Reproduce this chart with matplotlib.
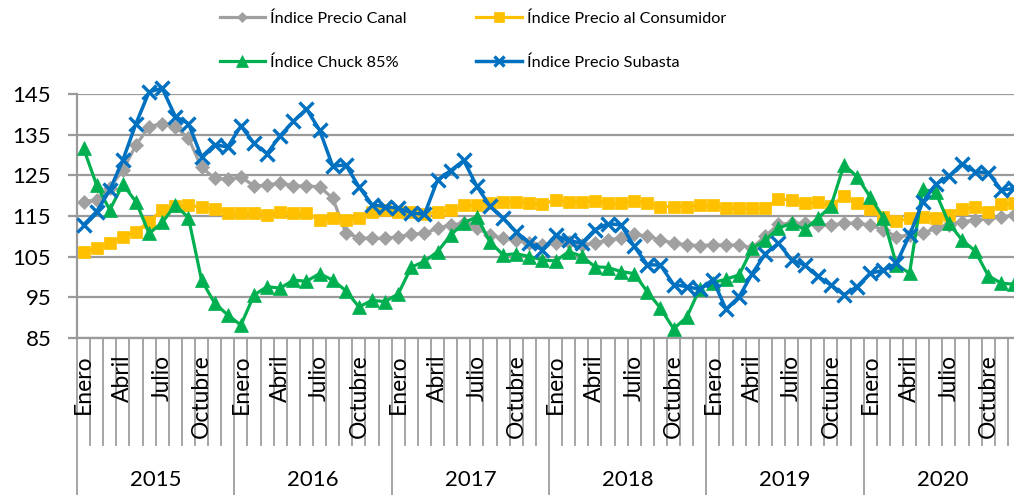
import matplotlib

matplotlib.use("Agg")
import matplotlib.pyplot as plt
import matplotlib.transforms as mtransforms
import numpy as np

years = ["2015", "2016", "2017", "2018", "2019", "2020"]
month_labels = {0: "Enero", 3: "Abril", 6: "Julio", 9: "Octubre"}

canal = [
    118.5, 119.0, 122.0, 126.3, 132.5, 137.0, 137.8, 137.0, 134.2, 127.0, 124.3, 124.0,
    124.7, 122.4, 122.6, 123.2, 122.4, 122.4, 122.2, 119.4, 110.9, 109.6, 109.5, 109.5,
    109.9, 110.5, 110.7, 112.0, 112.8, 113.2, 112.0, 110.3, 109.5, 109.1, 108.3, 107.9,
    108.3, 108.7, 107.9, 108.3, 109.1, 109.6, 110.5, 110.0, 109.1, 108.3, 107.9, 107.7,
    107.9, 107.8, 107.8, 107.2, 110.0, 113.0, 113.2, 113.2, 112.8, 112.8, 113.2, 113.2,
    112.8, 111.6, 109.9, 110.3, 110.7, 112.0, 112.8, 113.6, 114.0, 114.4, 114.8, 115.2,
]
consumidor = [
    106.2, 107.0, 108.3, 109.9, 111.1, 113.6, 116.5, 117.5, 117.6, 117.2, 116.8, 115.8,
    115.7, 115.7, 115.3, 116.0, 115.7, 115.7, 114.1, 114.4, 114.1, 114.4, 116.0, 116.4,
    116.1, 116.1, 115.4, 116.1, 116.5, 117.6, 117.6, 118.1, 118.5, 118.5, 118.1, 118.0,
    118.9, 118.5, 118.5, 118.8, 118.1, 118.1, 118.8, 118.1, 117.3, 117.3, 117.3, 117.6,
    117.6, 116.9, 116.9, 116.9, 116.9, 119.3, 118.9, 118.1, 118.4, 117.4, 120.0, 118.2,
    116.8, 114.8, 113.7, 114.4, 114.8, 114.4, 115.3, 116.8, 117.2, 116.1, 118.0, 118.1,
]
chuck = [
    131.7, 122.6, 116.5, 122.8, 118.5, 110.7, 113.4, 117.7, 114.6, 99.2, 93.5, 90.6,
    88.1, 95.5, 97.6, 97.2, 99.2, 98.9, 100.8, 99.2, 96.6, 92.6, 94.2, 93.9,
    95.8, 102.4, 103.8, 106.2, 110.3, 113.3, 114.8, 108.6, 105.4, 105.7, 105.0, 104.2,
    103.9, 106.2, 105.1, 102.5, 102.3, 101.3, 100.8, 96.3, 92.3, 87.2, 90.0, 97.1,
    98.6, 99.4, 100.5, 107.0, 109.1, 112.0, 113.2, 111.7, 114.4, 117.4, 127.6, 124.7,
    119.7, 114.6, 103.0, 100.9, 121.6, 120.8, 113.2, 109.1, 106.4, 100.3, 98.4, 98.2,
]
subasta = [
    112.8, 116.1, 121.4, 128.8, 137.8, 145.6, 146.5, 139.5, 137.8, 129.6, 132.6, 132.0,
    137.2, 132.9, 130.4, 134.8, 138.3, 141.4, 136.2, 127.3, 127.6, 122.2, 117.8, 117.3,
    116.9, 115.8, 115.4, 123.9, 126.2, 128.7, 122.3, 117.4, 114.4, 111.1, 108.3, 106.7,
    110.2, 109.0, 108.3, 111.6, 113.1, 112.8, 107.5, 103.0, 102.9, 98.1, 97.6, 96.9,
    99.3, 92.0, 95.1, 100.8, 105.7, 108.3, 104.2, 102.9, 100.1, 98.0, 95.6, 97.6,
    100.9, 101.6, 103.3, 110.3, 118.4, 122.8, 124.8, 127.9, 125.9, 125.7, 121.4, 121.8,
]

GRAY = "#a5a5a5"
LINE_GRAY = "#9a9a9a"
SERIES = [
    ("Índice Precio Canal", canal, "#a0a0a0", "D", 7.0, 2.3),
    ("Índice Precio al Consumidor", consumidor, "#ffc000", "s", 8.8, 2.3),
    ("Índice Chuck 85%", chuck, "#00b050", "^", 10.5, 2.3),
    ("Índice Precio Subasta", subasta, "#0070c0", "x", 9.5, 2.5),
]

plt.rcParams["font.family"] = ["Lato", "DejaVu Sans"]

W, H = 1014, 495
fig = plt.figure(figsize=(W / 100, H / 100), dpi=100)
ax_left, ax_right, ax_top, ax_bottom = 77, 1021, 94.3, 337.7
ax = fig.add_axes([ax_left / W, 1 - ax_bottom / H, (ax_right - ax_left) / W, (ax_bottom - ax_top) / H])

n = len(canal)
x = np.arange(n) + 0.5
handles = []
for label, vals, color, marker, ms, lw in SERIES:
    mew = 2.4 if marker == "x" else 0.5
    (h,) = ax.plot(x, vals, color=color, lw=lw, marker=marker, markersize=ms,
                   markeredgewidth=mew, markeredgecolor=color, label=label, clip_on=False, zorder=3)
    handles.append(h)

ax.set_xlim(0, n)
ax.set_ylim(85, 145)
ax.set_yticks(np.arange(85, 146, 10))
ax.yaxis.grid(True, color=LINE_GRAY, lw=1.6)
ax.set_axisbelow(True)
ax.tick_params(axis="y", length=6.5, width=1.6, color=LINE_GRAY, pad=12, labelsize=16)
ax.set_xticks([])
for side in ["top", "right"]:
    ax.spines[side].set_visible(False)
ax.spines["left"].set_color(LINE_GRAY)
ax.spines["left"].set_linewidth(1.6)
ax.spines["bottom"].set_color(LINE_GRAY)
ax.spines["bottom"].set_linewidth(1.6)

# category axis: month separators, month names, year groups
trans = mtransforms.blended_transform_factory(ax.transData, ax.transAxes)
px = 1.0 / (ax_bottom - ax_top)
for b in range(n + 1):
    depth = 160 if b % 12 == 0 else 107
    ax.plot([b, b], [0, -depth * px], color=GRAY, lw=1.4, transform=trans, clip_on=False)
for i in range(n):
    m = i % 12
    if m in month_labels:
        ax.text(i + 0.5, -17 * px, month_labels[m], rotation=90, ha="center", va="top",
                fontsize=16.5, transform=trans)
for k, yr in enumerate(years):
    ax.text(k * 12 + 6, -142 * px, yr, ha="center", va="center", fontsize=16, transform=trans)

order = [0, 2, 1, 3]
fig.legend([handles[i] for i in order], [SERIES[i][0] for i in order], ncol=2,
           loc="upper left", bbox_to_anchor=(213 / W, 1 - 5 / H), frameon=False,
           borderaxespad=0, fontsize=11.7, handlelength=2.8, handletextpad=0.3,
           columnspacing=4.3, labelspacing=1.8, markerscale=0.8)

fig.savefig("out.png", dpi=100)
